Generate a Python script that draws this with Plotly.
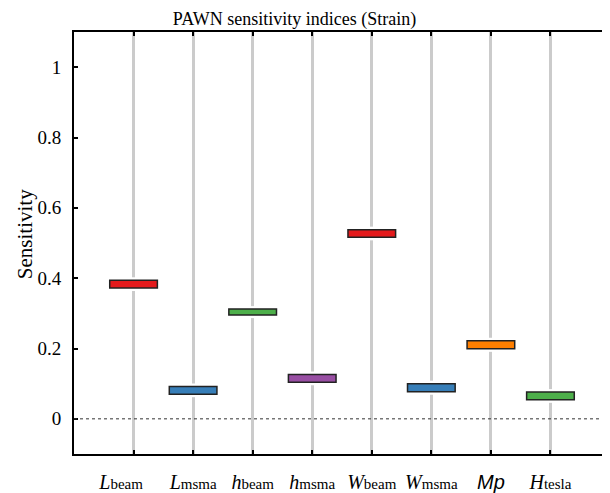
import plotly.graph_objects as go

SERIF = "Liberation Serif, Times New Roman, serif"

# ---- data ----
param_labels = [
    "<i>L</i><span style='font-size:15px'>beam</span>\u00a0\u00a0\u00a0\u00a0\u00a0",
    "<i>L</i><span style='font-size:15px'>msma</span>",
    "<i>h</i><span style='font-size:15px'>beam</span>",
    "<i>h</i><span style='font-size:15px'>msma</span>",
    "<i>W</i><span style='font-size:15px'>beam</span>",
    "<i>W</i><span style='font-size:15px'>msma</span>",
    "<span style='font-family:Liberation Sans'><i>Mp</i></span>",
    "<i>H</i><span style='font-size:15px'>tesla</span>",
]
box_lower = [0.372, 0.070, 0.295, 0.104, 0.516, 0.077, 0.199, 0.054]
box_upper = [0.394, 0.092, 0.312, 0.126, 0.538, 0.100, 0.222, 0.076]
box_colors = ["#e41a1c", "#377eb8", "#4daf4a", "#984ea3",
              "#e41a1c", "#377eb8", "#ff7f00", "#4daf4a"]
y_ticks = [0, 0.2, 0.4, 0.6, 0.8, 1]
y_ticktext = ["0", "0.2", "0.4", "0.6", "0.8", "1"]

gap = 0.0085
heights = [u - l for l, u in zip(box_lower, box_upper)]

fig = go.Figure()
# white gap around each box (breaks the grey line)
fig.add_trace(go.Bar(
    x=param_labels,
    y=[h + 2 * gap for h in heights],
    base=[l - gap for l in box_lower],
    width=0.12,
    marker=dict(color="white", line=dict(width=0)),
    hoverinfo="skip", showlegend=False,
))
fig.add_trace(go.Bar(
    x=param_labels,
    y=heights,
    base=box_lower,
    width=0.8,
    marker=dict(color=box_colors, line=dict(color="#222222", width=1.5)),
    showlegend=False,
))

fig.add_shape(type="line", xref="paper", yref="y", x0=0, x1=0.99, y0=0, y1=0,
              line=dict(color="#333333", width=1, dash="dot"), layer="above")

fig.add_annotation(text="Sensitivity", xref="paper", yref="paper",
                   x=-0.0914, y=0.521, textangle=-90, showarrow=False,
                   xanchor="center", yanchor="middle",
                   font=dict(family=SERIF, size=21, color="black"))

# the page body has an 8px margin: figure is 602x485 so the plot sits like the reference
fig.update_layout(
    width=602, height=485,
    margin=dict(l=66, r=0, t=24, b=39),
    paper_bgcolor="white", plot_bgcolor="white",
    barmode="overlay",
    title=dict(text="PAWN sensitivity indices (Strain)", x=0.476, xanchor="center",
               y=0.978, yanchor="middle", yref="container",
               font=dict(family=SERIF, size=18, color="black")),
    font=dict(family=SERIF, color="black"),
)
fig.update_xaxes(
    type="category", range=[-1, 8], tickangle=0, automargin=False,
    showline=True, linecolor="black", linewidth=2, mirror="allticks",
    ticks="inside", ticklen=4, tickwidth=2, tickcolor="black",
    showgrid=True, gridcolor="#cbcbcb", gridwidth=3,
    tickfont=dict(family=SERIF, size=20, color="black"),
    ticklabelstandoff=9, zeroline=False,
)
fig.update_yaxes(
    range=[-0.1, 1.1], tickvals=y_ticks, ticktext=y_ticktext, automargin=False,
    showline=True, linecolor="black", linewidth=2, mirror="allticks",
    ticks="inside", ticklen=4, tickwidth=2, tickcolor="black",
    showgrid=False, zeroline=False,
    tickfont=dict(family=SERIF, size=19, color="black"),
    ticklabelstandoff=7,
)

fig.write_html("out.html")
